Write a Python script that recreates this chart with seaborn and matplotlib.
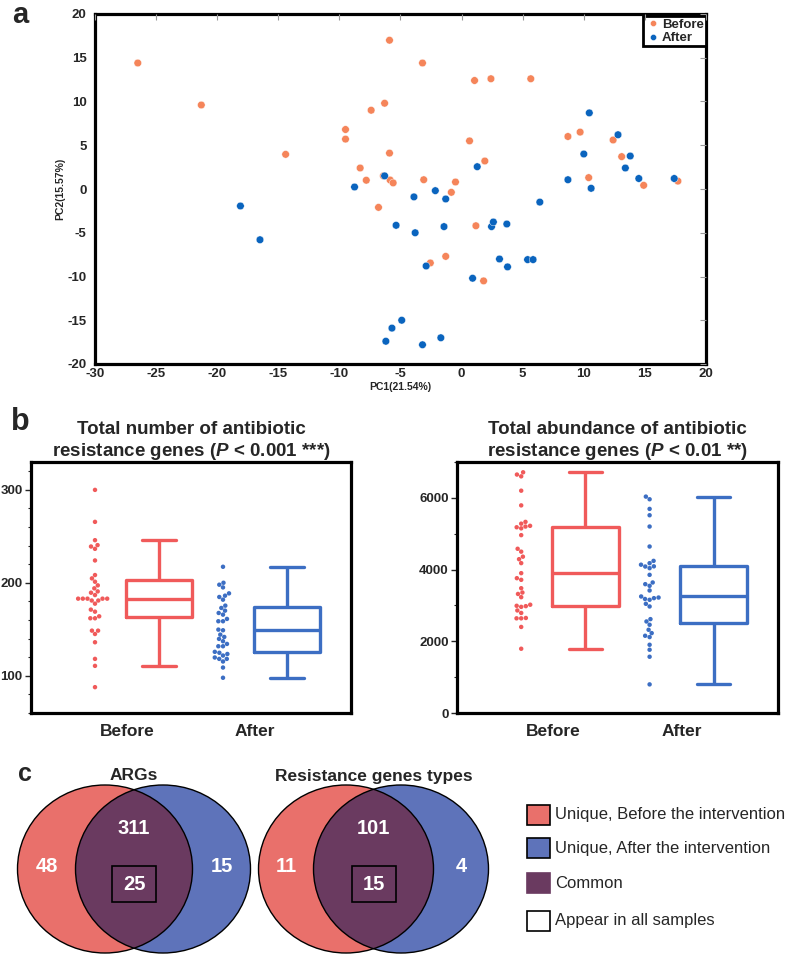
import numpy as np
import pandas as pd
import matplotlib
matplotlib.use('Agg')
import matplotlib.pyplot as plt
import seaborn as sns
from matplotlib.patches import Ellipse, Rectangle
from matplotlib.ticker import AutoMinorLocator
from matplotlib import font_manager

# ---- panel a: PCA scores ----
before_pc1 = [-26.5, -21.3, -14.4, -9.5, -9.5, -8.3, -7.8, -7.4, -6.3, -5.9, -5.9, -6.4,
              -5.85, -5.6, -6.8, -3.2, 1.06, 2.4, 5.66, 0.65, 1.9, -3.1, -0.5, 8.7, 9.7,
              12.4, 10.4, 13.1, 14.9, 17.7, -0.84, 1.17, -2.56, -1.3, 1.8]
before_pc2 = [14.4, 9.6, 3.96, 6.8, 5.7, 2.4, 1.0, 9.0, 9.8, 17.0, 4.1, 1.5,
              1.03, 0.7, -2.1, 14.4, 12.4, 12.6, 12.6, 5.5, 3.2, 1.06, 0.8, 6.0, 6.5,
              5.6, 1.3, 3.7, 0.42, 0.9, -0.38, -4.2, -8.45, -7.7, -10.5]
after_pc1 = [-18.1, -16.5, -8.76, -6.3, -5.36, -4.9, -5.7, -6.2, -3.9, -2.15, -1.3, -3.8,
             -1.44, 2.45, 2.6, 3.7, 6.4, -2.9, 3.1, 3.76, 5.4, 5.85, 0.9, -3.2, -1.7,
             8.7, 10.6, 14.5, 17.4, 10.45, 12.8, 10.0, 13.8, 13.4, 1.28]
after_pc2 = [-1.94, -5.8, 0.23, 1.5, -4.15, -15.0, -15.9, -17.4, -0.9, -0.19, -1.14, -5.0,
             -4.3, -4.3, -3.77, -4.0, -1.5, -8.8, -8.0, -8.9, -8.07, -8.07, -10.2, -17.8, -17.0,
             1.06, 0.08, 1.2, 1.2, 8.7, 6.2, 4.0, 3.77, 2.4, 2.55]

# ---- panel b: per-sample totals ----
groups = ['Before', 'After']
number_before = [300, 265.6, 245.9, 240.6, 239.1, 236.6, 224.1, 208.4, 204.8, 201.2, 197.3,
                 194.1, 190.8, 189.4, 186.9, 183, 183, 183, 183, 183, 181, 181, 177.6, 171.2,
                 169, 164, 161.9, 161.9, 148.6, 148.6, 145, 136.1, 118.2, 110.7, 87.8]
number_after = [97.9, 108.9, 115.4, 118.2, 118.2, 119.7, 121.8, 123.5, 124.8, 125.8, 131.8,
                131.8, 134.3, 137.2, 139.7, 141.8, 144.3, 149, 149.7, 158.7, 158.7, 161.2,
                165.8, 167.6, 170.1, 173, 175.5, 181.9, 184.8, 186.2, 188.7, 195.1, 198, 200.1, 217.3]
abund_before = [6713, 6650, 6600, 6200, 5790, 5330, 5280, 5220, 5200, 5180, 5150, 4960, 4580,
                4500, 4360, 4290, 4180, 3900, 3760, 3714, 3480, 3360, 3320, 3230, 3020, 2990,
                2980, 2960, 2860, 2790, 2650, 2640, 2640, 2400, 1792]
abund_after = [798, 1569, 1764, 1903, 2117, 2154, 2228, 2321, 2461, 2553, 2618, 2971, 3045,
               3157, 3180, 3203, 3220, 3250, 3417, 3547, 3593, 3640, 3853, 4039, 4085, 4090,
               4136, 4178, 4243, 4643, 5200, 5515, 5692, 5961, 6035]

# ---- panel c: Venn counts ----
venn_titles = ['ARGs', 'Resistance genes types']
unique_before = [48, 11]
common = [311, 101]
unique_after = [15, 4]
in_all = [25, 15]
venn_legend = ['Unique, Before the intervention', 'Unique, After the intervention',
               'Common', 'Appear in all samples']

sns.set_style('white')
plt.rcParams['font.family'] = ['Liberation Sans', 'DejaVu Sans']
plt.rcParams['font.weight'] = 'bold'
plt.rcParams['axes.labelweight'] = 'bold'
plt.rcParams['axes.titleweight'] = 'bold'
plt.rcParams['axes.unicode_minus'] = False
plt.rcParams['mathtext.fontset'] = 'custom'
plt.rcParams['mathtext.it'] = 'Liberation Sans:italic:bold'
plt.rcParams['mathtext.rm'] = 'Liberation Sans:bold'
plt.rcParams['mathtext.bf'] = 'Liberation Sans:bold'

installed = {f.name for f in font_manager.fontManager.ttflist}
narrow = 'Liberation Sans Narrow' in installed


def bold_ticks(ax):
    for lab in ax.get_xticklabels() + ax.get_yticklabels():
        lab.set_fontweight('bold')


W, H = 787, 957
fig = plt.figure(figsize=(W / 100, H / 100), dpi=100)

# ================= panel a =================
ax_a = fig.add_axes([95 / W, 1 - 364 / H, 611 / W, 350 / H])
pca = pd.DataFrame({
    'PC1': before_pc1 + after_pc1,
    'PC2': before_pc2 + after_pc2,
    'Group': ['Before'] * len(before_pc1) + ['After'] * len(after_pc1),
})
pal_a = {'Before': '#F5855A', 'After': '#0A64BE'}
sns.scatterplot(data=pca, x='PC1', y='PC2', hue='Group', hue_order=groups, palette=pal_a,
                s=30, edgecolor='white', linewidth=0.3, ax=ax_a)
ax_a.set_xlim(-30, 20)
ax_a.set_ylim(-20, 20)
ax_a.set_xticks(range(-30, 21, 5))
ax_a.set_yticks(range(-20, 21, 5))
ax_a.tick_params(axis='x', length=0, labelsize=9.5, pad=3)
ax_a.tick_params(axis='y', direction='out', length=4, color='0.6', labelsize=9.5, pad=2)
bold_ticks(ax_a)
ax_a.set_xlabel('PC1(21.54%)', fontsize=7.5, labelpad=1)
ax_a.set_ylabel('PC2(15.57%)', fontsize=7.5, labelpad=2)
for sp in ax_a.spines.values():
    sp.set_linewidth(2.3)
    sp.set_color('black')

# inward ticks on top and right
ax_t = fig.add_axes(ax_a.get_position(), frameon=False, sharex=ax_a, sharey=ax_a)
ax_t.tick_params(top=True, right=True, bottom=False, left=False, labelbottom=False,
                 labelleft=False, direction='in', length=4, color='0.6')
ax_t.patch.set_visible(False)

handles, labels = ax_a.get_legend_handles_labels()
leg = ax_a.legend(handles, labels, loc='upper right', bbox_to_anchor=(1.0, 0.993),
                  fontsize=9.5, handletextpad=0.1, borderpad=0.15, labelspacing=0.1,
                  handlelength=1.2, markerscale=0.8, fancybox=False, framealpha=1,
                  edgecolor='black', borderaxespad=0)
leg.get_frame().set_linewidth(2)
for t in leg.get_texts():
    t.set_fontweight('bold')

fig.text(20 / W, 1 - 23 / H, 'a', fontsize=21, fontweight='bold', ha='center', va='baseline')

# ================= panel b =================
pal_b = {'Before': '#F05A5A', 'After': '#3C6EC3'}
swarm_pos = {'Before': -0.25, 'After': 0.75}
box_pos = {'Before': 0.25, 'After': 1.25}


def group_plot(ax, vals_before, vals_after, title):
    df = pd.DataFrame({
        'Group': ['Before'] * len(vals_before) + ['After'] * len(vals_after),
        'Value': list(vals_before) + list(vals_after),
    })
    df['spos'] = df['Group'].map(swarm_pos)
    df['bpos'] = df['Group'].map(box_pos)
    sns.swarmplot(data=df, x='spos', y='Value', hue='Group', hue_order=groups,
                  palette=pal_b, native_scale=True, orient='x', size=3.2,
                  legend=False, ax=ax)
    sns.boxplot(data=df, x='bpos', y='Value', hue='Group', hue_order=groups,
                palette=pal_b, native_scale=True, orient='x', fill=False,
                width=0.52, linewidth=2.4, showfliers=False, whis=1.5,
                legend=False, ax=ax)
    ax.set_xlim(-0.75, 1.75)
    ax.set_xticks([0, 1])
    ax.set_xticklabels(groups, fontsize=12.5, fontweight='bold')
    ax.tick_params(axis='x', length=0, pad=8)
    ax.tick_params(axis='y', which='major', direction='out', length=4, width=1,
                   labelsize=9.5, pad=2, left=True)
    ax.tick_params(axis='y', which='minor', direction='out', length=2, width=0.8, left=True)
    ax.set_xlabel('')
    ax.set_ylabel('')
    ax.set_title(title, fontsize=13.5, fontweight='bold', pad=4, linespacing=1.25)
    for sp in ax.spines.values():
        sp.set_linewidth(2.3)
        sp.set_color('black')


ax_b1 = fig.add_axes([31 / W, 1 - 713 / H, 320 / W, 251 / H])
group_plot(ax_b1, number_before, number_after,
           'Total number of antibiotic\nresistance genes ($P$ < 0.001 ***)')
ax_b1.set_ylim(60, 330)
ax_b1.set_yticks([100, 200, 300])
ax_b1.yaxis.set_minor_locator(AutoMinorLocator(5))
bold_ticks(ax_b1)

ax_b2 = fig.add_axes([457 / W, 1 - 713 / H, 321 / W, 251 / H])
group_plot(ax_b2, abund_before, abund_after,
           'Total abundance of antibiotic\nresistance genes ($P$ < 0.01 **)')
ax_b2.set_ylim(0, 7000)
ax_b2.set_yticks([0, 2000, 4000, 6000])
ax_b2.yaxis.set_minor_locator(AutoMinorLocator(2))
bold_ticks(ax_b2)

fig.text(20 / W, 1 - 422 / H, 'b', fontsize=22, fontweight='bold', ha='center', va='center')

# ================= panel c =================
ax_c = fig.add_axes([0, 0, 1, 202 / H])
ax_c.set_xlim(0, W)
ax_c.set_ylim(H, H - 202)
ax_c.axis('off')

red_c, blue_c, purple_c = '#E9706B', '#5E73BA', '#6A3A60'
ell_w, ell_h, ell_y = 175, 168, 869
red_centers = [105, 346]
blue_centers = [163, 401]
num_font = dict(color='white', fontsize=14.5, fontweight='bold', ha='center', va='center')

for i in range(2):
    rc, bc = red_centers[i], blue_centers[i]
    red = Ellipse((rc, ell_y), ell_w, ell_h, facecolor=red_c, edgecolor='none')
    blue = Ellipse((bc, ell_y), ell_w, ell_h, facecolor=blue_c, edgecolor='none')
    ax_c.add_patch(red)
    ax_c.add_patch(blue)
    inter = Ellipse((rc, ell_y), ell_w, ell_h, facecolor=purple_c, edgecolor='none')
    ax_c.add_patch(inter)
    inter.set_clip_path(blue)
    for c in (rc, bc):
        ax_c.add_patch(Ellipse((c, ell_y), ell_w, ell_h, facecolor='none',
                               edgecolor='black', linewidth=1.0))
    red_l, red_r = rc - ell_w / 2, rc + ell_w / 2
    blue_l, blue_r = bc - ell_w / 2, bc + ell_w / 2
    mid = (blue_l + red_r) / 2
    ax_c.text((red_l + blue_l) / 2, 866, str(unique_before[i]), **num_font)
    ax_c.text(mid, 829, str(common[i]), **num_font)
    ax_c.text((red_r + blue_r) / 2, 866, str(unique_after[i]), **num_font)
    ax_c.text(mid, 884, str(in_all[i]), **num_font)
    ax_c.add_patch(Rectangle((mid - 22, 866), 44, 36, facecolor='none',
                             edgecolor='black', linewidth=1.2))
    ax_c.text((red_l + blue_r) / 2, 776, venn_titles[i], fontsize=12.5,
              fontweight='bold', ha='center', va='center')

leg_fill = [red_c, blue_c, purple_c, 'white']
leg_edge = ['black', 'black', purple_c, 'black']
leg_rows = [815, 848, 883, 921]
leg_family = ['Liberation Sans Narrow', 'Liberation Sans'] if narrow else ['Liberation Sans']
leg_size = 13 if narrow else 12
for lab, fc, ec, ry in zip(venn_legend, leg_fill, leg_edge, leg_rows):
    ax_c.add_patch(Rectangle((527, ry - 10), 23, 20, facecolor=fc, edgecolor=ec, linewidth=1.2))
    ax_c.text(555, ry, lab, fontsize=leg_size, fontweight='normal', family=leg_family,
              ha='left', va='center')

fig.text(25 / W, 1 - 774 / H, 'c', fontsize=18, fontweight='bold', ha='center', va='center')

fig.savefig('out.png', dpi=100)
